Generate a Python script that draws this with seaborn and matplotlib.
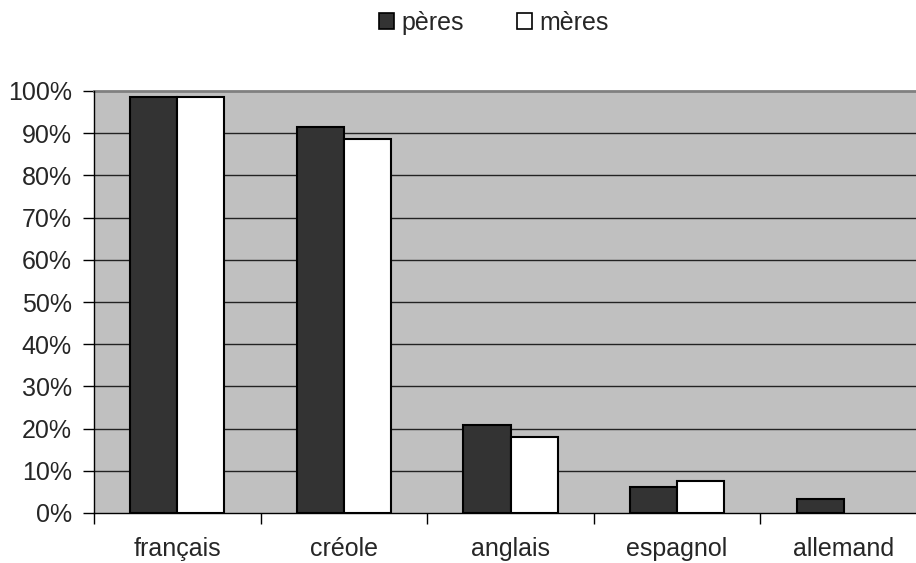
import matplotlib
matplotlib.use("Agg")
import matplotlib.pyplot as plt
from matplotlib.patches import Patch
from matplotlib.ticker import FuncFormatter, FixedLocator
import seaborn as sns
import pandas as pd

langues = ["français", "créole", "anglais", "espagnol", "allemand"]
peres = [98.6, 91.5, 20.9, 6.2, 3.3]
meres = [98.5, 88.6, 18.0, 7.6, 0.0]
series = ["pères", "mères"]
colors = ["#333333", "#ffffff"]
y_ticks = [0, 10, 20, 30, 40, 50, 60, 70, 80, 90, 100]

df = pd.DataFrame({
    "langue": langues * 2,
    "parent": [series[0]] * len(langues) + [series[1]] * len(langues),
    "pct": peres + meres,
})

sns.set_theme(style="white")
plt.rcParams["font.family"] = ["Liberation Sans", "DejaVu Sans"]
fs = 18

fig = plt.figure(figsize=(9.16, 5.63), dpi=100)
ax = fig.add_axes([94 / 916, 50 / 563, 833 / 916, 422 / 563])
ax.set_facecolor("#c0c0c0")

sns.barplot(data=df, x="langue", y="pct", hue="parent", order=langues,
            hue_order=series, palette=colors, width=0.565, gap=0,
            edgecolor="black", linewidth=1.5, legend=False, ax=ax, zorder=3)

# an empty bar leaves no outline on the baseline
for bar in ax.patches:
    if bar.get_height() == 0:
        bar.set_linewidth(0)

ax.set_ylim(0, 100)
ax.set_xlim(-0.5, len(langues) - 0.5)
ax.yaxis.set_major_locator(FixedLocator(y_ticks))
ax.yaxis.set_major_formatter(FuncFormatter(lambda v, p: f"{v:.0f}%"))
for y in y_ticks[1:-1]:
    ax.axhline(y, color="#222222", linewidth=1.0, zorder=1)

ax.set_xlabel("")
ax.set_ylabel("")

# category boundaries carry the tick marks, labels sit at the centres
ax.set_xticks([i - 0.5 for i in range(len(langues) + 1)], minor=True)
ax.tick_params(axis="x", which="minor", length=8, width=1, color="black",
               direction="out", bottom=True)
ax.tick_params(axis="x", which="major", length=0, pad=17.5, labelsize=fs)
ax.tick_params(axis="y", which="major", length=8, width=1, color="black",
               direction="out", left=True, pad=8, labelsize=fs)

for side in ["left", "bottom"]:
    ax.spines[side].set_color("black")
    ax.spines[side].set_linewidth(1.0)
    ax.spines[side].set_zorder(4)
for side in ["top", "right"]:
    ax.spines[side].set_color("#808080")
    ax.spines[side].set_linewidth(2.0)

handles = [Patch(facecolor=c, edgecolor="black", linewidth=1.2) for c in colors]
fig.legend(handles, series, loc="center", bbox_to_anchor=(494 / 916, 1 - 23 / 563),
           ncol=2, frameon=False, fontsize=fs, handlelength=0.6, handleheight=0.6,
           handletextpad=0.3, columnspacing=2.1, borderpad=0)

fig.savefig("out.png", dpi=100)
